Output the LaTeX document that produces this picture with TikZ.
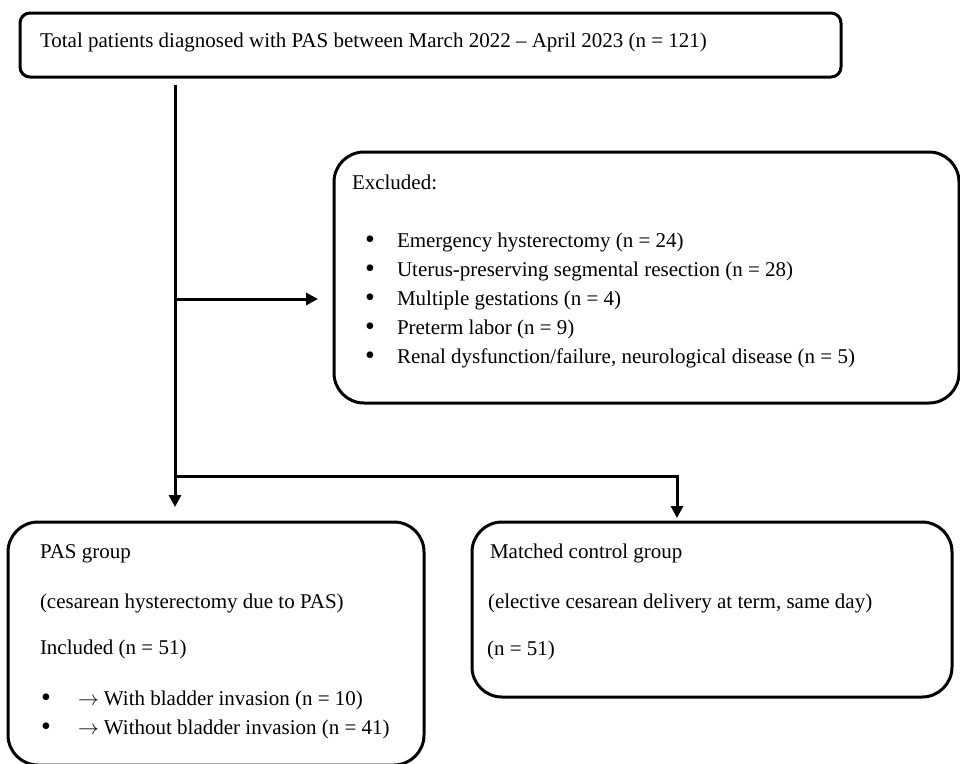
\documentclass[tikz,border=0pt]{standalone}
\usepackage{fontspec}
\setmainfont{Liberation Serif}
\usetikzlibrary{arrows.meta}
\begin{document}
\begin{tikzpicture}[x=1pt,y=-1pt,
  box/.style={draw, line width=3pt, rectangle, inner sep=0pt, outer sep=0pt},
  txt/.style={anchor=base west, inner sep=0pt, outer sep=0pt, font=\fontsize{21}{25}\selectfont},
  bul/.style={anchor=base, inner sep=0pt, outer sep=0pt, font=\fontsize{28}{30}\selectfont},
  conn/.style={line width=3pt},
  arr/.style={conn, -{Triangle[length=12pt,width=12pt]}}]
\useasboundingbox (0,0) rectangle (960,763);
% boxes
\node[box, rounded corners=10pt, minimum width=821pt, minimum height=64pt] (top) at (430.5,45) {};
\node[box, rounded corners=30pt, minimum width=625pt, minimum height=251pt] (excl) at (646.5,277.5) {};
\node[box, rounded corners=30pt, minimum width=416pt, minimum height=243pt] (pas) at (216,643.5) {};
\node[box, rounded corners=30pt, minimum width=480pt, minimum height=175pt] (ctrl) at (712,609.5) {};
% texts
\node[txt] (t0) at (40,47) {Total patients diagnosed with PAS between March 2022 – April 2023 (n = 121)};
\node[txt] (e0) at (352,189) {Excluded:};
\foreach \y/\t [count=\i] in {247/Emergency hysterectomy (n = 24),
  276/Uterus-preserving segmental resection (n = 28),
  305/Multiple gestations (n = 4),
  334/Preterm labor (n = 9),
  363/{Renal dysfunction/failure, neurological disease (n = 5)}}{
  \node[bul] (eb\i) at (370,\y+1) {•};
  \node[txt] (e\i) at (397,\y) {\t};
}
\node[txt] (p0) at (40,558) {PAS group};
\node[txt] (p1) at (40,608) {(cesarean hysterectomy due to PAS)};
\node[txt] (p2) at (40,654) {Included (n = 51)};
\node[bul] (pb1) at (46,706) {•};
\node[txt] (p3) at (78,705) {\(\rightarrow\) With bladder invasion (n = 10)};
\node[bul] (pb2) at (46,735) {•};
\node[txt] (p4) at (78,734) {\(\rightarrow\) Without bladder invasion (n = 41)};
\node[txt] (c0) at (490,558) {Matched control group};
\node[txt] (c1t) at (488,608) {(elective cesarean delivery at term, same day)};
\node[txt] (c2) at (487,655) {(n = 51)};
% connectors
\coordinate (v0) at (175,85);
\coordinate (j1) at (175,299);
\coordinate (j2) at (175,476);
\coordinate (k1) at (677,476);
\draw[arr] (v0) -- ([yshift=15pt]pas.north -| v0);
\draw[arr] (j1) -- ([xshift=-16pt]excl.west |- j1);
\draw[arr] (j2) -- (k1) -- ([yshift=4pt]ctrl.north -| k1);
\end{tikzpicture}
\end{document}
